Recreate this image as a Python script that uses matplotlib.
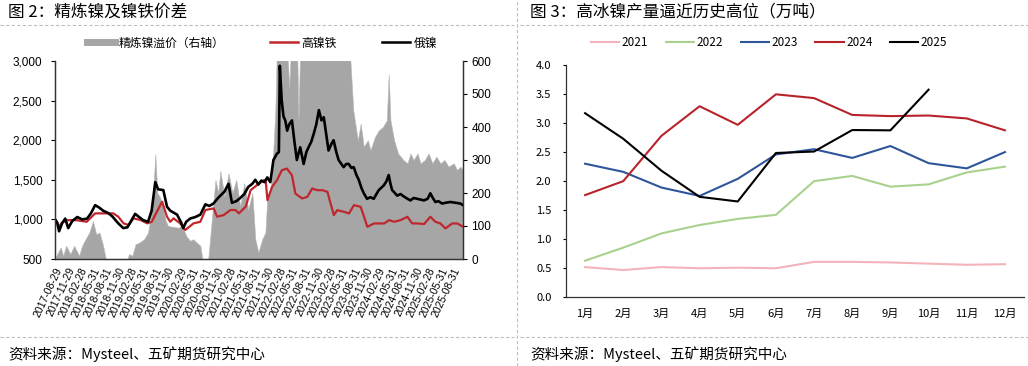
import matplotlib
matplotlib.use("Agg")
import matplotlib.pyplot as plt
from matplotlib.lines import Line2D
from matplotlib.ticker import FuncFormatter, MultipleLocator
import pandas as pd

plt.rcParams["font.family"] = ["Noto Sans CJK SC", "DejaVu Sans"]

# ---------------- left chart: refined nickel vs NPI ----------------
RUS_DATES = [
    "2017-08-29", "2017-09-14", "2017-09-28", "2017-10-20", "2017-11-12", "2017-12-04",
    "2018-01-03", "2018-02-09", "2018-03-16", "2018-04-22", "2018-05-21", "2018-06-20",
    "2018-07-19", "2018-08-18", "2018-09-24", "2018-10-23", "2018-12-07", "2019-01-13",
    "2019-02-12", "2019-03-11", "2019-04-10", "2019-05-09", "2019-06-08", "2019-07-14",
    "2019-08-09", "2019-09-05", "2019-09-26", "2019-11-03", "2019-11-30", "2019-12-24",
    "2020-02-12", "2020-03-13", "2020-03-28", "2020-04-19", "2020-05-18", "2020-06-25",
    "2020-08-01", "2020-09-07", "2020-10-06", "2020-11-05", "2020-12-04", "2020-12-26",
    "2021-01-25", "2021-02-24", "2021-03-21", "2021-04-22", "2021-05-21", "2021-06-20",
    "2021-07-19", "2021-08-18", "2021-09-09", "2021-10-01", "2021-10-23", "2021-11-15",
    "2021-12-06", "2021-12-28", "2022-01-20", "2022-02-15", "2022-03-01", "2022-03-08",
    "2022-03-22", "2022-04-04", "2022-04-17", "2022-05-01", "2022-05-16", "2022-06-05",
    "2022-06-22", "2022-07-11", "2022-08-05", "2022-08-30", "2022-09-19", "2022-10-05",
    "2022-10-25", "2022-11-12", "2022-12-01", "2022-12-20", "2023-01-08", "2023-01-25",
    "2023-02-14", "2023-03-01", "2023-03-21", "2023-04-07", "2023-04-27", "2023-05-14",
    "2023-06-03", "2023-06-20", "2023-07-09", "2023-07-27", "2023-08-16", "2023-09-02",
    "2023-09-22", "2023-10-09", "2023-10-28", "2023-11-15", "2023-12-09", "2024-01-03",
    "2024-01-27", "2024-02-16", "2024-03-04", "2024-03-23", "2024-04-10", "2024-04-29",
    "2024-05-16", "2024-05-29", "2024-06-10", "2024-06-27", "2024-07-17", "2024-08-11",
    "2024-09-04", "2024-10-01", "2024-10-23", "2024-11-15", "2024-12-12", "2025-01-05",
    "2025-01-30", "2025-02-26", "2025-03-18", "2025-04-02", "2025-04-24", "2025-05-16",
    "2025-06-13", "2025-07-07", "2025-08-13", "2025-09-19", "2025-10-25", "2025-11-13",
]
RUS_NICKEL = [
    1000, 960, 850, 950, 1010, 890,
    980, 1030, 1000, 1010, 1080, 1180,
    1150, 1110, 1080, 1040, 950, 890,
    900, 980, 1070, 1030, 990, 970,
    1110, 1470, 1380, 1370, 1160, 1110,
    1060, 960, 890, 970, 1010, 1030,
    1060, 1190, 1170, 1200, 1260, 1300,
    1350, 1450, 1210, 1230, 1270, 1320,
    1410, 1450, 1500, 1440, 1490, 1470,
    1530, 1470, 1750, 1830, 1850, 2940,
    2500, 2300, 2250, 2120, 2200, 2250,
    2000, 1750, 1910, 1700, 1850, 1910,
    1980, 2080, 2200, 2380, 2250, 2290,
    2050, 1870, 1950, 2000, 1850, 1750,
    1700, 1660, 1700, 1700, 1650, 1660,
    1560, 1500, 1400, 1330, 1260, 1280,
    1260, 1320, 1370, 1400, 1430, 1480,
    1560, 1450, 1370, 1340, 1300, 1320,
    1290, 1260, 1240, 1270, 1260, 1250,
    1240, 1260, 1330, 1280, 1220, 1230,
    1200, 1210, 1220, 1210, 1200, 1180,
]

NPI_DATES = [
    "2017-08-29", "2017-09-28", "2017-10-20", "2017-11-22", "2018-02-05", "2018-04-19",
    "2018-06-20", "2018-08-20", "2018-10-31", "2018-12-07", "2019-01-15", "2019-02-21",
    "2019-03-29", "2019-05-20", "2019-07-08", "2019-08-10", "2019-09-23", "2019-10-25",
    "2019-11-30", "2019-12-24", "2020-01-17", "2020-03-06", "2020-04-12", "2020-06-12",
    "2020-08-01", "2020-09-07", "2020-11-07", "2020-12-02", "2021-01-20", "2021-03-10",
    "2021-04-17", "2021-05-11", "2021-06-30", "2021-08-06", "2021-10-07", "2021-11-13",
    "2021-11-25", "2021-12-07", "2022-01-10", "2022-02-15", "2022-03-23", "2022-04-29",
    "2022-06-05", "2022-06-30", "2022-08-19", "2022-09-26", "2022-11-01", "2022-12-08",
    "2023-01-14", "2023-02-21", "2023-03-16", "2023-04-09", "2023-05-04", "2023-06-22",
    "2023-07-29", "2023-09-04", "2023-10-23", "2023-11-17", "2023-12-11", "2024-01-29",
    "2024-04-13", "2024-05-19", "2024-06-25", "2024-08-11", "2024-09-30", "2024-11-05",
    "2024-12-12", "2025-01-31", "2025-03-18", "2025-04-24", "2025-05-31", "2025-07-07",
    "2025-08-26", "2025-10-02", "2025-11-13",
]
NPI = [
    1010, 910, 960, 990, 990, 970,
    1076, 1076, 1076, 1034, 950, 929,
    1013, 992, 950, 970, 1118, 1223,
    1034, 970, 1013, 950, 866, 950,
    970, 1118, 1139, 1034, 1055, 1118,
    1118, 1076, 1160, 1370, 1454, 1496,
    1474, 1243, 1411, 1495, 1621, 1642,
    1558, 1327, 1264, 1285, 1390, 1369,
    1369, 1348, 1201, 1054, 1117, 1096,
    1075, 1180, 1159, 1033, 907, 949,
    949, 991, 970, 991, 1033, 949,
    949, 941, 1033, 970, 949, 886,
    949, 949, 907,
]

PREM_DATES = [
    "2017-08-29", "2017-09-14", "2017-10-10", "2017-10-28", "2017-11-19", "2017-12-19",
    "2018-01-17", "2018-02-22", "2018-03-16", "2018-04-10", "2018-05-08", "2018-06-04",
    "2018-06-28", "2018-07-22", "2018-08-18", "2018-09-06", "2019-02-12", "2019-02-25",
    "2019-03-20", "2019-04-13", "2019-05-12", "2019-06-15", "2019-07-14", "2019-08-09",
    "2019-08-27", "2019-09-05", "2019-09-20", "2019-10-11", "2019-11-03", "2019-11-20",
    "2019-12-08", "2020-02-21", "2020-03-22", "2020-04-19", "2020-05-18", "2020-06-10",
    "2020-07-05", "2020-08-01", "2020-08-16", "2020-09-28", "2020-11-20", "2020-12-10",
    "2020-12-26", "2021-01-25", "2021-02-24", "2021-03-25", "2021-04-22", "2021-05-21",
    "2021-06-20", "2021-07-19", "2021-08-18", "2021-09-09", "2021-10-01", "2021-10-30",
    "2021-11-22", "2021-12-06", "2021-12-28", "2022-01-13", "2022-02-03", "2022-02-18",
    "2022-04-04", "2022-04-24", "2022-05-16", "2022-06-05", "2022-07-11", "2022-07-23",
    "2022-08-05", "2022-09-19", "2022-11-12", "2023-01-14", "2023-03-21", "2023-05-26",
    "2023-07-03", "2023-08-06", "2023-08-30", "2023-10-02", "2023-10-23", "2023-11-15",
    "2023-12-15", "2024-01-03", "2024-02-05", "2024-03-05", "2024-04-03", "2024-05-02",
    "2024-05-16", "2024-05-29", "2024-06-25", "2024-07-24", "2024-09-01", "2024-10-01",
    "2024-10-23", "2024-11-15", "2024-12-14", "2025-01-05", "2025-02-05", "2025-03-05",
    "2025-04-02", "2025-05-01", "2025-05-31", "2025-06-30", "2025-07-30", "2025-09-06",
    "2025-09-30", "2025-10-25", "2025-11-13",
]
PREMIUM = [
    0, 15, 35, 10, 40, 15,
    40, 10, 40, 60, 80, 115,
    75, 80, 40, 0, 0, 15,
    10, 45, 50, 60, 80, 150,
    250, 318, 200, 186, 150, 116,
    100, 95, 100, 70, 55, 60,
    50, 40, 0, 0, 240, 200,
    267, 190, 260, 200, 240, 160,
    230, 150, 200, 60, 20, 60,
    80, 186, 200, 280, 450, 700,
    650, 700, 520, 700, 700, 420,
    650, 700, 700, 700, 700, 650,
    640, 620, 450, 360, 410, 340,
    360, 330, 370, 390, 400, 420,
    560, 420, 360, 320, 300, 290,
    320, 300, 320, 290, 300, 320,
    290, 310, 290, 300, 280, 290,
    270, 280, 270,
]

TICK_DATES = [
    "2017-08-29", "2017-11-29", "2018-02-28", "2018-05-31", "2018-08-31", "2018-11-30",
    "2019-02-28", "2019-05-31", "2019-08-31", "2019-11-30", "2020-02-29", "2020-05-31",
    "2020-08-31", "2020-11-30", "2021-02-28", "2021-05-31", "2021-08-31", "2021-11-30",
    "2022-02-28", "2022-05-31", "2022-08-31", "2022-11-30", "2023-02-28", "2023-05-31",
    "2023-08-31", "2023-11-30", "2024-02-29", "2024-05-31", "2024-08-31", "2024-11-30",
    "2025-02-28", "2025-05-31", "2025-08-31",
]

# ---------------- right chart: high-grade nickel matte output ----------------
MONTHS = ["1月", "2月", "3月", "4月", "5月", "6月", "7月", "8月", "9月", "10月", "11月", "12月"]
Y2021 = [0.52, 0.47, 0.52, 0.50, 0.51, 0.50, 0.61, 0.61, 0.60, 0.58, 0.56, 0.57]
Y2022 = [0.63, 0.855, 1.10, 1.245, 1.35, 1.42, 2.00, 2.09, 1.905, 1.945, 2.15, 2.25]
Y2023 = [2.30, 2.16, 1.89, 1.745, 2.04, 2.46, 2.55, 2.40, 2.605, 2.31, 2.22, 2.50]
Y2024 = [1.76, 2.00, 2.78, 3.29, 2.97, 3.495, 3.43, 3.14, 3.12, 3.13, 3.08, 2.875]
Y2025 = [3.17, 2.73, 2.18, 1.73, 1.65, 2.485, 2.51, 2.88, 2.875, 3.575]

GREY = "#a6a6a6"
RED = "#c0272d"
NUM_FONT = ["Liberation Sans", "DejaVu Sans"]

fig = plt.figure(figsize=(10.28, 3.66), dpi=100)

# titles, separators, source lines
fig.text(8 / 1028, 1 - 12 / 366, "图 2：精炼镍及镍铁价差", fontsize=12, va="center", ha="left")
fig.text(530 / 1028, 1 - 12 / 366, "图 3：高冰镍产量逼近历史高位（万吨）", fontsize=12, va="center", ha="left")
for x0, x1 in [(0, 514 / 1028), (520 / 1028, 1)]:
    for yy in (1 - 25 / 366, 1 - 337 / 366):
        fig.add_artist(Line2D([x0, x1], [yy, yy], transform=fig.transFigure,
                              color="#bfbfbf", lw=0.8, ls=(0, (3, 2))))
fig.add_artist(Line2D([517 / 1028, 517 / 1028], [0, 1], transform=fig.transFigure,
                      color="#bfbfbf", lw=0.8, ls=(0, (3, 2))))
fig.text(8 / 1028, 1 - 354 / 366, "资料来源：Mysteel、五矿期货研究中心", fontsize=10.5, va="center")
fig.text(530 / 1028, 1 - 354 / 366, "资料来源：Mysteel、五矿期货研究中心", fontsize=10.5, va="center")

# ---- left panel
ax = fig.add_axes([55 / 1028, 1 - 259 / 366, 408 / 1028, 198 / 366])
ax2 = ax.twinx()
prem_x = pd.to_datetime(PREM_DATES)
ax2.fill_between(prem_x, 0, PREMIUM, color=GREY, lw=0.4, edgecolor="#b8b8b8")
ax2.set_ylim(0, 600)
ax2.yaxis.set_major_locator(MultipleLocator(100))

ax.set_zorder(ax2.get_zorder() + 1)
ax.patch.set_visible(False)
ax.plot(pd.to_datetime(NPI_DATES), NPI, color=RED, lw=1.6)
ax.plot(pd.to_datetime(RUS_DATES), RUS_NICKEL, color="black", lw=1.9)
ax.set_ylim(500, 3000)
ax.yaxis.set_major_locator(MultipleLocator(500))
ax.yaxis.set_major_formatter(FuncFormatter(lambda v, p: f"{int(v):,}"))
ax.set_xlim(pd.Timestamp("2017-08-29"), pd.Timestamp("2025-11-13"))

ticks = pd.to_datetime(TICK_DATES)
ax.set_xticks(ticks)
ax.set_xticklabels(TICK_DATES, rotation=65, ha="right", rotation_mode="anchor",
                   fontsize=7.5, family=NUM_FONT)
ax.tick_params(axis="x", length=0, pad=5)
ax.tick_params(axis="y", length=3, pad=6, labelsize=8.5, direction="out")
ax2.tick_params(axis="y", length=3, pad=3, labelsize=8.5, direction="out")
for lab in ax.get_yticklabels() + ax2.get_yticklabels():
    lab.set_family(NUM_FONT)
for a in (ax, ax2):
    a.spines["top"].set_visible(False)
    for s in ("left", "right", "bottom"):
        a.spines[s].set_color("#333333")
        a.spines[s].set_linewidth(0.9)

left_handles = [
    Line2D([], [], color=GREY, lw=5),
    Line2D([], [], color=RED, lw=1.8),
    Line2D([], [], color="black", lw=1.8),
]
fig.legend(left_handles, ["精炼镍溢价（右轴）", "高镍铁", "俄镍"], loc="center",
           bbox_to_anchor=(262 / 1028, 1 - 43 / 366), ncol=3, frameon=False,
           fontsize=8.5, handlelength=2.4, handletextpad=0.3, columnspacing=3.8)

# ---- right panel
bx = fig.add_axes([566 / 1028, 1 - 297.3 / 366, 458 / 1028, 232.3 / 366])
xs = range(len(MONTHS))
series = [
    ("2021", Y2021, "#f4b3ba"),
    ("2022", Y2022, "#a9d18e"),
    ("2023", Y2023, "#2f559a"),
    ("2024", Y2024, "#b8232b"),
    ("2025", Y2025, "#000000"),
]
for name, vals, col in series:
    bx.plot(list(xs)[:len(vals)], vals, color=col, lw=1.5, label=name)
bx.set_xlim(-0.5, 11.5)
bx.set_ylim(0, 4.0)
bx.yaxis.set_major_locator(MultipleLocator(0.5))
bx.yaxis.set_major_formatter(FuncFormatter(lambda v, p: f"{v:.1f}"))
bx.set_xticks(list(xs))
bx.set_xticklabels(MONTHS)
bx.tick_params(axis="x", length=0, pad=8, labelsize=8)
bx.tick_params(axis="y", length=2.5, pad=8, labelsize=8)
for s in ("top", "right"):
    bx.spines[s].set_visible(False)
for s in ("left", "bottom"):
    bx.spines[s].set_color("#333333")
    bx.spines[s].set_linewidth(0.9)
fig.legend(*bx.get_legend_handles_labels(), loc="center",
           bbox_to_anchor=(769 / 1028, 1 - 43 / 366), ncol=5, frameon=False,
           fontsize=8.5, handlelength=2.4, handletextpad=0.2, columnspacing=1.5)

fig.savefig("out.png", dpi=100)
